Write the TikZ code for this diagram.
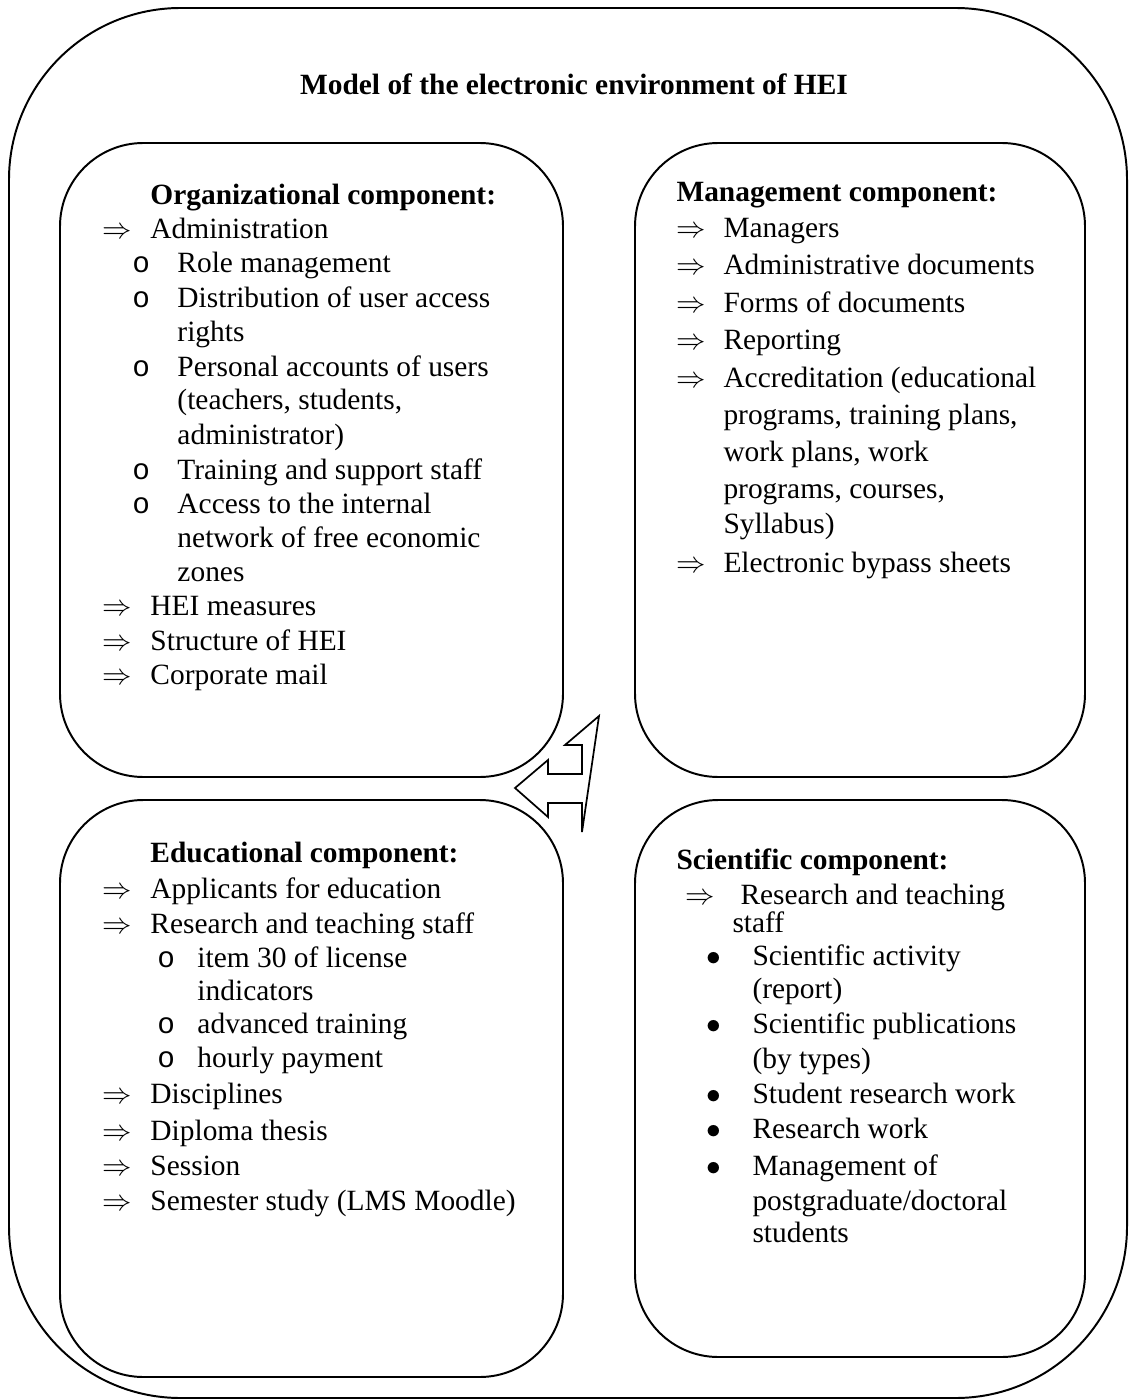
\documentclass[tikz,border=0pt]{standalone}
\usepackage{fontspec}
\setmainfont{Liberation Serif}
\newfontfamily\courierfont{Liberation Mono}
\usepackage{tikz,ifthen}

\begin{document}
\begin{tikzpicture}[x=0.408pt,y=-0.408pt,
	outerbox/.style={draw,line width=0.8pt,rounded corners=70pt},
	compbox/.style={draw,line width=0.8pt,rounded corners=34pt},
	blockarrow/.style={draw,line width=0.7pt,fill=white},
	txt/.style={anchor=base west,inner sep=0pt,font=\fontsize{12}{14}\selectfont},
	head/.style={txt,font=\fontsize{12}{14}\selectfont\bfseries}]

\useasboundingbox (0,0) rectangle (1130,1400);
\draw[outerbox] (9,8) rectangle (1127,1398);
\node[head,anchor=base] (title) at (574,95) {Model of the electronic environment of HEI};

\draw[compbox] (60,143) rectangle (563,777);
\draw[compbox] (635,143) rectangle (1085,777);
\draw[compbox] (60,800) rectangle (563,1377);
\draw[compbox] (635,800) rectangle (1085,1357);

\draw[blockarrow] (515,788) -- (548,760) -- (548,774) -- (582,774) -- (582,745)
	-- (565,745) -- (599,716) -- (582,832) -- (582,803) -- (548,803) -- (548,817) -- cycle;

% organizational
\node[head] (orgT) at (150,205) {Organizational component:};
\foreach \y/\lv/\t in {239/1/Administration, 273/2/Role management,
	308/2/{Distribution of user access}, 342/4/rights,
	376/2/{Personal accounts of users}, 410/4/{(teachers, students,},
	444/4/{administrator)}, 479/2/{Training and support staff},
	513/2/{Access to the internal}, 547/4/{network of free economic},
	581/4/zones, 615/1/{HEI measures}, 650/1/{Structure of HEI},
	684/1/{Corporate mail}}
	{
	\ifthenelse{\lv = 1}{
		\node[txt] (orgM\y) at (102,\y) {$\Rightarrow$};
		\node[txt] (org\y) at (150,\y) {\t};
	}%else
	{
		\ifthenelse{\lv = 2}{
			\node[txt] (orgM\y) at (132,\y) {\courierfont o};
		}{}
		\node[txt] (org\y) at (177,\y) {\t};
	}
	}

% management
\node[head] (manT) at (676,202) {Management component:};
\foreach \y/\lv/\t in {238/1/Managers, 275/1/{Administrative documents},
	313/1/{Forms of documents}, 350/1/Reporting,
	388/1/{Accreditation (educational}, 425/3/{programs, training plans,},
	462/3/{work plans, work}, 498/3/{programs, courses,},
	533/3/{Syllabus)}, 572/1/{Electronic bypass sheets}}
	{
	\ifthenelse{\lv = 1}{
		\node[txt] (manM\y) at (676,\y) {$\Rightarrow$};
	}{}
	\node[txt] (man\y) at (723,\y) {\t};
	}

% educational
\node[head] (eduT) at (150,862) {Educational component:};
\foreach \y/\lv/\t in {898/1/{Applicants for education},
	933/1/{Research and teaching staff}, 967/2/{item 30 of license},
	1000/4/indicators, 1033/2/{advanced training}, 1067/2/{hourly payment},
	1103/1/Disciplines, 1140/1/{Diploma thesis}, 1175/1/Session,
	1210/1/{Semester study (LMS Moodle)}}
	{
	\ifthenelse{\lv = 1}{
		\node[txt] (eduM\y) at (102,\y) {$\Rightarrow$};
		\node[txt] (edu\y) at (150,\y) {\t};
	}%else
	{
		\ifthenelse{\lv = 2}{
			\node[txt] (eduM\y) at (157,\y) {\courierfont o};
		}{}
		\node[txt] (edu\y) at (197,\y) {\t};
	}
	}

% scientific
\node[head] (sciT) at (676,869) {Scientific component:};
\foreach \y/\lv/\t in {904/1/{Research and teaching}, 932/3/staff,
	965/2/{Scientific activity}, 998/4/(report),
	1033/2/{Scientific publications}, 1068/4/{(by types)},
	1103/2/{Student research work}, 1138/2/{Research work},
	1175/2/{Management of}, 1210/4/{postgraduate/doctoral}, 1242/4/students}
	{
	\ifthenelse{\lv = 1}{
		\node[txt] (sciM\y) at (685,\y) {$\Rightarrow$};
		\node[txt] (sci\y) at (740,\y) {\t};
	}%else
	{
		\ifthenelse{\lv = 3}{
			\node[txt] (sci\y) at (732,\y) {\t};
		}%else
		{
			\ifthenelse{\lv = 2}{
				\node[txt] (sciM\y) at (706,\y) {$\bullet$};
			}{}
			\node[txt] (sci\y) at (752,\y) {\t};
		}
	}
	}
\end{tikzpicture}
\end{document}
